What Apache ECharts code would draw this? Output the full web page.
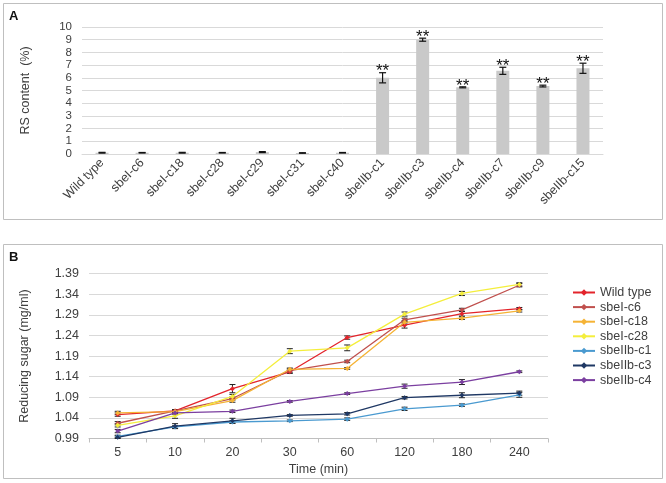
<!DOCTYPE html>
<html><head><meta charset="utf-8">
<script src="https://cdn.jsdelivr.net/npm/echarts@6/dist/echarts.min.js"></script>
<style>html,body{margin:0;padding:0;background:#fff}#c{width:666px;height:483px}</style>
</head><body><div id="c"></div>
<script>
// ---- Panel A data ----
const rsCategories = ['Wild type','sbeI-c6','sbeI-c18','sbeI-c28','sbeI-c29','sbeI-c31','sbeI-c40','sbeIIb-c1','sbeIIb-c3','sbeIIb-c4','sbeIIb-c7','sbeIIb-c9','sbeIIb-c15'];
const rsValues = [0.10,0.10,0.10,0.10,0.15,0.08,0.10,6.0,9.0,5.25,6.55,5.35,6.75];
const rsErrors = [0.03,0.02,0.03,0.02,0.04,0.02,0.02,0.40,0.12,0.04,0.28,0.07,0.40];
const rsSignificant = [0,0,0,0,0,0,0,1,1,1,1,1,1];
const rsTicks = [0,1,2,3,4,5,6,7,8,9,10];

// ---- Panel B data ----
const timeLabels = ['5','10','20','30','60','120','180','240'];
const seriesNames = ['Wild type','sbeI-c6','sbeI-c18','sbeI-c28','sbeIIb-c1','sbeIIb-c3','sbeIIb-c4'];
const wildType  = [1.048,1.057,1.111,1.152,1.235,1.265,1.293,1.305];
const sbeIc6    = [1.027,1.057,1.087,1.155,1.177,1.278,1.302,1.362];
const sbeIc18   = [1.052,1.055,1.082,1.158,1.160,1.272,1.282,1.300];
const sbeIc28   = [1.022,1.045,1.092,1.202,1.210,1.292,1.342,1.364];
const sbeIIbc1  = [0.995,1.018,1.030,1.033,1.037,1.062,1.071,1.096];
const sbeIIbc3  = [0.993,1.020,1.033,1.046,1.050,1.089,1.095,1.100];
const sbeIIbc4  = [1.008,1.052,1.056,1.080,1.099,1.117,1.127,1.152];
const errWildType = [0.004,0.003,0.010,0.004,0.004,0.007,0.006,0.003];
const errC6       = [0.004,0.003,0.004,0.004,0.003,0.004,0.004,0.004];
const errC18      = [0.004,0.003,0.004,0.003,0.002,0.004,0.003,0.003];
const errC28      = [0.004,0.006,0.005,0.006,0.007,0.005,0.005,0.004];
const errIIbC1    = [0.003,0.003,0.003,0.002,0.003,0.004,0.003,0.006];
const errIIbC3    = [0.003,0.006,0.006,0.002,0.003,0.003,0.006,0.005];
const errIIbC4    = [0.004,0.003,0.003,0.002,0.002,0.005,0.006,0.002];
const sugarTicks = ['0.99','1.04','1.09','1.14','1.19','1.24','1.29','1.34','1.39'];

const lineValues = [wildType,sbeIc6,sbeIc18,sbeIc28,sbeIIbc1,sbeIIbc3,sbeIIbc4];
const lineErrors = [errWildType,errC6,errC18,errC28,errIIbC1,errIIbC3,errIIbC4];
const lineColors = ['#e3242b','#c0504d','#f5b335','#f4ee3c','#4a9ad0','#1f3864','#7b3fa0'];

const FONT = 'Liberation Sans, Arial, sans-serif';
const TXT = '#404040';

const chart = echarts.init(document.getElementById('c'), null, {renderer:'canvas'});

function errBarA(params, api){
  const x = api.value(0), v = api.value(1), e = api.value(2), sig = api.value(3);
  const t = api.coord([x, v + e]), b = api.coord([x, v - e]);
  const hw = 3.5, st = {stroke:'#111', lineWidth:1.2};
  const ch = [
    {type:'line', shape:{x1:t[0],y1:t[1],x2:b[0],y2:b[1]}, style:st},
    {type:'line', shape:{x1:t[0]-hw,y1:t[1],x2:t[0]+hw,y2:t[1]}, style:st},
    {type:'line', shape:{x1:b[0]-hw,y1:b[1],x2:b[0]+hw,y2:b[1]}, style:st}
  ];
  if (sig) ch.push({type:'text', x:t[0], y:t[1]-1, style:{text:'**', align:'center', verticalAlign:'middle', fontSize:17, fontFamily:FONT, fill:'#111'}});
  return {type:'group', children:ch};
}
function errBarB(params, api){
  const x = api.value(0), v = api.value(1), e = api.value(2);
  const t = api.coord([x, v + e]), b = api.coord([x, v - e]);
  const hw = 3, st = {stroke:'#222', lineWidth:1};
  return {type:'group', children:[
    {type:'line', shape:{x1:t[0],y1:t[1],x2:b[0],y2:b[1]}, style:st},
    {type:'line', shape:{x1:t[0]-hw,y1:t[1],x2:t[0]+hw,y2:t[1]}, style:st},
    {type:'line', shape:{x1:b[0]-hw,y1:b[1],x2:b[0]+hw,y2:b[1]}, style:st}
  ]};
}

const series = [
  {type:'bar', xAxisIndex:0, yAxisIndex:0, data:rsValues, barWidth:13, itemStyle:{color:'#c9c9c9'}, silent:true, z:2},
  {type:'custom', xAxisIndex:0, yAxisIndex:0, renderItem:errBarA, silent:true, z:3,
   data: rsValues.map((v,i)=>[i, v, rsErrors[i], rsSignificant[i]])}
];
seriesNames.forEach((n,k)=>{
  series.push({type:'custom', xAxisIndex:1, yAxisIndex:1, renderItem:errBarB, silent:true, z:3,
    data: lineValues[k].map((v,i)=>[i, v, lineErrors[k][i]])});
});
seriesNames.forEach((n,k)=>{
  series.push({type:'line', name:n, xAxisIndex:1, yAxisIndex:1, data:lineValues[k],
    symbol:'diamond', symbolSize:5,
    lineStyle:{width:1.3, color:lineColors[k]}, itemStyle:{color:lineColors[k]}, z:4});
});

chart.setOption({
  animation:false,
  textStyle:{fontFamily:FONT},
  graphic:[
    {type:'rect', shape:{x:3.5,y:3.5,width:659,height:216}, style:{fill:'none', stroke:'#bfbfbf', lineWidth:1}},
    {type:'rect', shape:{x:3.5,y:244.5,width:659,height:234}, style:{fill:'none', stroke:'#bfbfbf', lineWidth:1}},
    {type:'text', x:9, y:10, style:{text:'A', fontSize:13, fontWeight:'bold', fontFamily:FONT, fill:'#111'}},
    {type:'text', x:9, y:251, style:{text:'B', fontSize:13, fontWeight:'bold', fontFamily:FONT, fill:'#111'}}
  ],
  legend:{
    data:seriesNames, orient:'vertical', left:567, top:281, itemWidth:22, itemHeight:8, itemGap:1.6,
    textStyle:{fontSize:12.5, color:TXT, fontFamily:FONT}
  },
  grid:[
    {left:82, right:63, top:27, height:127},
    {left:89, right:118, top:273.7, height:164.8}
  ],
  xAxis:[
    {type:'category', gridIndex:0, data:rsCategories,
     axisLine:{lineStyle:{color:'#d9d9d9'}}, axisTick:{show:false},
     axisLabel:{rotate:45, fontSize:12.5, color:TXT, margin:7, interval:0}},
    {type:'category', gridIndex:1, data:timeLabels, name:'Time (min)', nameLocation:'middle', nameGap:25,
     nameTextStyle:{fontSize:12.5, color:TXT},
     axisLine:{lineStyle:{color:'#bfbfbf'}}, axisTick:{show:true, length:4, lineStyle:{color:'#bfbfbf'}},
     axisLabel:{fontSize:12.5, color:TXT, margin:8}}
  ],
  yAxis:[
    {type:'value', gridIndex:0, min:rsTicks[0], max:rsTicks[rsTicks.length-1], interval:1,
     name:'RS content  (%)', nameLocation:'middle', nameGap:50, nameTextStyle:{fontSize:12.5, color:TXT},
     axisLine:{show:false}, axisTick:{show:false},
     splitLine:{lineStyle:{color:'#d9d9d9'}},
     axisLabel:{fontSize:11.5, color:TXT, margin:10, showMinLabel:true, showMaxLabel:true, hideOverlap:false}},
    {type:'value', gridIndex:1, min:+sugarTicks[0], max:+sugarTicks[sugarTicks.length-1], interval:0.05,
     name:'Reducing sugar (mg/ml)', nameLocation:'middle', nameGap:58, nameTextStyle:{fontSize:12.5, color:TXT},
     axisLine:{show:false}, axisTick:{show:false},
     splitLine:{lineStyle:{color:'#d9d9d9'}},
     axisLabel:{fontSize:12.5, color:TXT, margin:10, formatter:v=>v.toFixed(2)}}
  ],
  series:series
});
</script></body></html>
